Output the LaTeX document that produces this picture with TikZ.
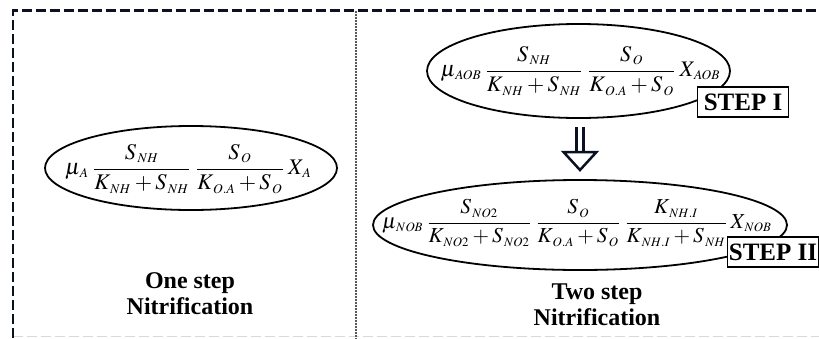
\documentclass[tikz,border=0pt]{standalone}
\usepackage{mathptmx}
\usepackage[no-math]{fontspec}
\setmainfont{Liberation Serif}
\usetikzlibrary{shapes.geometric}
\definecolor{framecol}{HTML}{0B1120}
\newcommand\ssb[1]{_{\scriptscriptstyle\mkern2mu #1}}
\begin{document}
\begin{tikzpicture}[x=1pt,y=-1pt,
  frame/.style={line width=2.7pt, dash pattern=on 10pt off 4pt, color=framecol},
  ell/.style={ellipse, draw, line width=1.8pt, inner sep=0pt},
  stepbox/.style={draw, fill=white, line width=1.8pt, minimum width=91pt, minimum height=30pt, inner sep=0pt, font=\fontsize{25}{25}\selectfont\bfseries},
  eq/.style={inner sep=0pt},
  lab/.style={align=center, inner sep=0pt, font=\fontsize{24}{26}\selectfont\bfseries},
  arr/.style={line width=2.5pt, color=framecol}]
\useasboundingbox (0,0) rectangle (819,338);
% frame
\coordinate (fbl) at (13,338);
\coordinate (ftl) at (13,10.5);
\coordinate (ftr) at (819,10.5);
\coordinate (bl) at (13,336.5);
\coordinate (br) at (819,336.5);
\coordinate (dt) at (356,10.5);
\coordinate (db) at (356,338);
\draw[gray!30, line width=1.5pt, dash pattern=on 10pt off 4pt] (bl) -- (br);
\draw[gray!70!black, line width=1.2pt, dash pattern=on 2pt off 1pt] (dt) -- (db);
\draw[frame] (fbl) -- (ftl) -- (ftr);
% left
\node[ell, minimum width=292pt, minimum height=84pt] (e1) at (191,168) {};
\node[eq] (q1) at (188.5,169) {\resizebox{247pt}{!}{$\displaystyle \mu\ssb{A}\,\frac{S\ssb{NH}}{K\ssb{NH}+S\ssb{NH}}\,\frac{S\ssb{O}}{K\ssb{O.A}+S\ssb{O}}\,X\ssb{A}$}};
\node[lab] (l1) at (190,294) {One step\\Nitrification};
% upper right
\node[ell, minimum width=303pt, minimum height=94pt] (e2) at (578.5,71) {};
\node[eq] (q2) at (580.5,71) {\resizebox{280pt}{!}{$\displaystyle \mu\ssb{AOB}\,\frac{S\ssb{NH}}{K\ssb{NH}+S\ssb{NH}}\,\frac{S\ssb{O}}{K\ssb{O.A}+S\ssb{O}}\,X\ssb{AOB}$}};
\node[stepbox] (s1) at (743,102) {STEP I};
% arrow
\coordinate (a1) at (576.7,127);
\coordinate (a2) at (576.7,152);
\coordinate (b1) at (583.3,127);
\coordinate (b2) at (583.3,152);
\coordinate (t1) at (563.5,152);
\coordinate (t2) at (596.5,152);
\coordinate (tip) at (580,170);
\draw[arr] (a1) -- (a2);
\draw[arr] (b1) -- (b2);
\draw[arr, line join=miter] (t1) -- (t2) -- (tip) -- cycle;
% lower right
\node[ell, minimum width=414pt, minimum height=90pt] (e3) at (580,225) {};
\node[eq] (q3) at (577,223) {\resizebox{390pt}{!}{$\displaystyle \mu\ssb{NOB}\,\frac{S\ssb{NO2}}{K\ssb{NO2}+S\ssb{NO2}}\,\frac{S\ssb{O}}{K\ssb{O.A}+S\ssb{O}}\,\frac{K\ssb{NH.I}}{K\ssb{NH.I}+S\ssb{NH}}\,X\ssb{NOB}$}};
\node[stepbox] (s2) at (773,252) {STEP II};
\node[lab] (l2) at (597,305) {Two step\\Nitrification};
\end{tikzpicture}
\end{document}
